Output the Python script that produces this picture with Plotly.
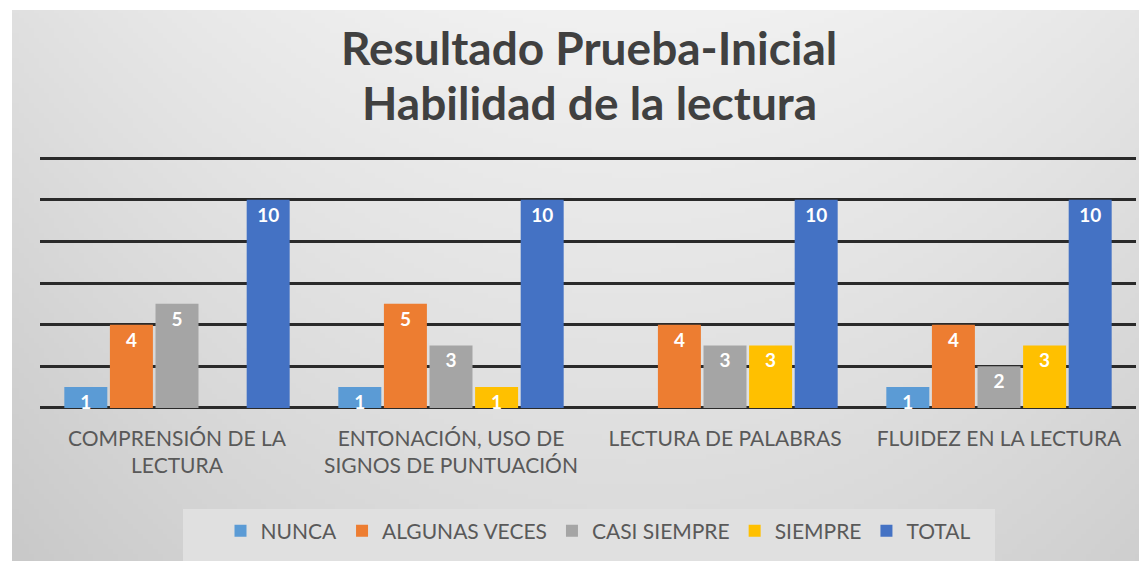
import base64, struct, zlib
import numpy as np
import plotly.graph_objects as go

title_lines = ["Resultado Prueba-Inicial", "Habilidad de la lectura"]
categories = ["COMPRENSIÓN DE LA<br>LECTURA",
              "ENTONACIÓN, USO DE<br>SIGNOS DE PUNTUACIÓN",
              "LECTURA DE PALABRAS",
              "FLUIDEZ EN LA LECTURA"]
series_names = ["NUNCA", "ALGUNAS VECES", "CASI SIEMPRE", "SIEMPRE", "TOTAL"]
nunca = [1, 1, 0, 1]
algunas_veces = [4, 5, 4, 4]
casi_siempre = [5, 3, 3, 2]
siempre = [0, 1, 3, 3]
total = [10, 10, 10, 10]
series_values = [nunca, algunas_veces, casi_siempre, siempre, total]
colors = ["#5B9BD5", "#ED7D31", "#A5A5A5", "#FFC000", "#4472C4"]

# page is 1147x561; the browser body has an 8px margin, so the figure is 8px smaller
PAGE_W, PAGE_H, OFF = 1147, 561, 8
W, H = PAGE_W - OFF, PAGE_H - OFF
L, R, T, B = 40 - OFF, 11, 156 - OFF, 151
pw, ph = W - L - R, H - T - B


def px_x(p):  # page pixel -> paper x
    return (p - OFF - L) / pw


def px_y(p):  # page pixel -> paper y
    return (H - B - (p - OFF)) / ph


def gradient_uri(w=230, h=110):
    xs = np.linspace(0, 1, w)
    ys = np.linspace(0, 1, h)
    X, Y = np.meshgrid(xs, ys)
    nx = (X - 0.55) / 0.55
    v = 241 - 17 * nx ** 2 - 23 * Y
    v = np.clip(v, 0, 255).astype(np.uint8)
    rgb = np.stack([v, v, v], axis=-1)
    raw = b"".join(b"\x00" + rgb[i].tobytes() for i in range(h))

    def chunk(t, d):
        c = struct.pack(">I", len(d)) + t + d
        return c + struct.pack(">I", zlib.crc32(t + d) & 0xffffffff)

    png = b"\x89PNG\r\n\x1a\n" + chunk(b"IHDR", struct.pack(">IIBBBBB", w, h, 8, 2, 0, 0, 0)) \
        + chunk(b"IDAT", zlib.compress(raw, 9)) + chunk(b"IEND", b"")
    return "data:image/png;base64," + base64.b64encode(png).decode()


fig = go.Figure()
for name, vals, col in zip(series_names, series_values, colors):
    fig.add_trace(go.Bar(
        name=name, x=categories, y=vals,
        marker=dict(color=col, line=dict(width=0)),
        text=[str(v) if v else "" for v in vals],
        textposition="inside", insidetextanchor="end", constraintext="none",
        textangle=0,
        textfont=dict(family="Lato", size=19, color="white", weight="bold"),
        cliponaxis=False,
    ))

title_ann = [
    dict(text=t, xref="paper", yref="paper", x=px_x(589), y=px_y(yc),
         xanchor="center", yanchor="middle", showarrow=False,
         font=dict(family="Lato", size=46, color="#404040", weight="bold"))
    for t, yc in zip(title_lines, [47, 103])
]

fig.update_layout(
    width=W, height=H,
    margin=dict(l=L, r=R, t=T, b=B, autoexpand=False),
    paper_bgcolor="white", plot_bgcolor="rgba(0,0,0,0)",
    barmode="group", bargap=0.168, bargroupgap=0.057,
    font=dict(family="Lato", color="#595959"),
    annotations=title_ann,
    xaxis=dict(showgrid=False, showline=False, ticks="", zeroline=False,
               ticklabelstandoff=14, automargin=False,
               tickfont=dict(family="Lato", size=21, color="#595959")),
    yaxis=dict(range=[-0.1, 12.1], dtick=2, tick0=0, showticklabels=False,
               automargin=False,
               showgrid=True, gridcolor="#2a2a2a", gridwidth=2.5, zeroline=False),
    legend=dict(orientation="h", x=px_x(598), xanchor="center",
                y=px_y(531), yanchor="middle", bgcolor="rgba(0,0,0,0)",
                font=dict(family="Lato", size=21, color="#595959")),
    images=[dict(source=gradient_uri(), xref="paper", yref="paper",
                 x=px_x(12), y=px_y(10), sizex=(PAGE_W - 12) / pw, sizey=(PAGE_H - 10) / ph,
                 xanchor="left", yanchor="top", sizing="stretch", layer="below")],
    shapes=[dict(type="rect", xref="paper", yref="paper",
                 x0=px_x(183), x1=px_x(995), y0=px_y(PAGE_H), y1=px_y(509),
                 fillcolor="#e0e0e0", line=dict(width=0), layer="below")],
)

fig.write_html("out.html")
